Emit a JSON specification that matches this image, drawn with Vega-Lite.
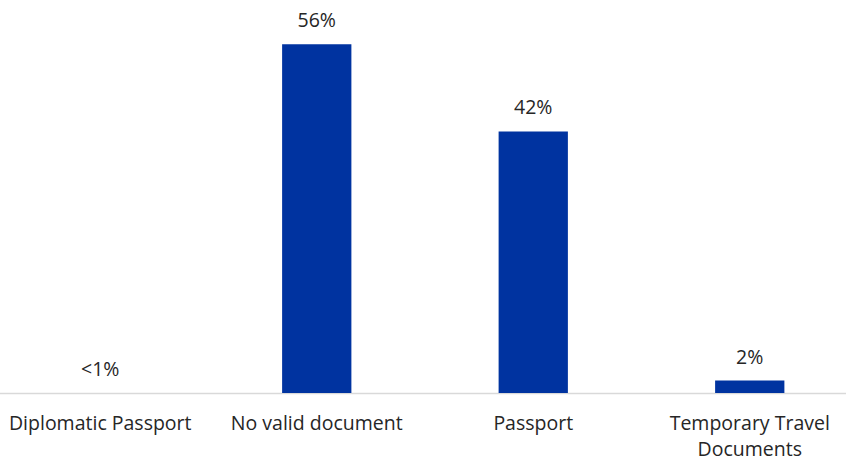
{
  "$schema": "https://vega.github.io/schema/vega-lite/v6.json",
  "width": 846,
  "height": 393,
  "padding": {"left": 0, "top": 0, "right": 0, "bottom": 68},
  "autosize": "none",
  "background": "white",
  "config": {"view": {"stroke": null}, "font": "Open Sans"},
  "data": {"values": [
    {"category": "Diplomatic Passport", "value": 0, "label": "<1%"},
    {"category": "No valid document", "value": 56, "label": "56%"},
    {"category": "Passport", "value": 42, "label": "42%"},
    {"category": "Temporary Travel Documents", "value": 2, "label": "2%"}
  ]},
  "encoding": {
    "x": {
      "field": "category", "type": "nominal", "sort": null,
      "scale": {"range": [-8, 858], "paddingInner": 0.68, "paddingOuter": 0.34},
      "axis": {
        "title": null, "labelAngle": 0, "ticks": false, "domainColor": "#d9d9d9", "domainWidth": 1.5,
        "labelFont": "Open Sans", "labelFontSize": 19.5, "labelColor": "#262626", "labelPadding": 21,
        "labelBaseline": "top",
        "labelLimit": 300, "labelLineHeight": 26,
        "labelExpr": "datum.label == 'Temporary Travel Documents' ? ['Temporary Travel', 'Documents'] : datum.label"
      }
    },
    "y": {
      "field": "value", "type": "quantitative",
      "scale": {"domain": [0, 63.1], "nice": false},
      "axis": null
    }
  },
  "layer": [
    {"mark": {"type": "bar", "color": "#0033A0"}},
    {"mark": {"type": "text", "baseline": "bottom", "dy": -13, "font": "Open Sans", "fontSize": 19.5, "color": "#262626"},
     "encoding": {"text": {"field": "label"}}}
  ]
}
